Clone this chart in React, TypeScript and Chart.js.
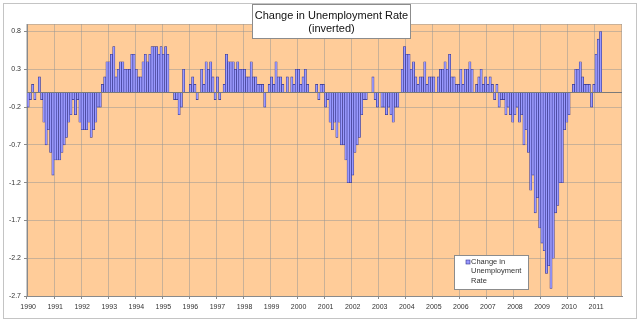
import React, { useEffect, useRef } from 'react';
import { Chart, registerables } from 'chart.js';

Chart.register(...registerables);

// Year tick labels (one per January)
const yearLabels = [
  '1990', '1991', '1992', '1993', '1994', '1995', '1996', '1997', '1998', '1999', '2000',
  '2001', '2002', '2003', '2004', '2005', '2006', '2007', '2008', '2009', '2010', '2011',
];

// Monthly change in unemployment rate (inverted), Jan 1990 - Dec 1999
const change1990s = [
  -0.2, -0.1, 0.1, -0.1, 0, 0.2, -0.1, -0.4, -0.7, -0.5, -0.8, -1.1,
  -0.9, -0.9, -0.9, -0.8, -0.7, -0.6, -0.4, -0.3, -0.1, -0.3, -0.1, -0.4,
  -0.5, -0.5, -0.5, -0.4, -0.6, -0.5, -0.4, -0.2, -0.2, 0.1, 0.2, 0.4,
  0.4, 0.5, 0.6, 0.2, 0.3, 0.4, 0.4, 0.3, 0.3, 0.3, 0.5, 0.5,
  0.3, 0.2, 0.2, 0.4, 0.5, 0.4, 0.5, 0.6, 0.6, 0.6, 0.5, 0.6,
  0.5, 0.6, 0.5, 0, 0, -0.1, -0.1, -0.3, -0.2, 0.3, 0, 0,
  0.1, 0.2, 0.1, -0.1, 0, 0.3, 0.1, 0.4, 0.3, 0.4, 0.2, -0.1,
  0.2, -0.1, 0, 0.1, 0.5, 0.4, 0.4, 0.4, 0.3, 0.4, 0.3, 0.3,
  0.3, 0.2, 0.2, 0.4, 0.2, 0.2, 0.1, 0.1, 0.1, -0.2, 0, 0.1,
  0.2, 0.1, 0.4, 0.2, 0.2, 0.1, 0, 0.2, 0, 0.2, 0.1, 0.3,
];

// Jan 2000 - Dec 2009
const change2000s = [
  0.3, 0.1, 0.2, 0.3, 0.1, 0, 0, 0, 0.1, -0.1, 0.1, 0.1,
  -0.2, -0.1, -0.4, -0.5, -0.4, -0.6, -0.4, -0.7, -0.7, -0.9, -1.2, -1.2,
  -1.1, -0.8, -0.7, -0.6, -0.3, -0.1, -0.1, 0, 0, 0.2, -0.1, -0.2,
  0, -0.2, -0.2, -0.3, -0.2, -0.3, -0.4, -0.2, -0.2, 0, 0.3, 0.6,
  0.5, 0.5, 0.3, 0.4, 0.2, 0.1, 0.2, 0.2, 0.4, 0.1, 0.2, 0.2,
  0.2, 0, 0.2, 0.3, 0.3, 0.4, 0.3, 0.5, 0.2, 0.2, 0.1, 0.1,
  0.3, 0.1, 0.3, 0.3, 0.4, 0.3, 0, 0.1, 0.2, 0.3, 0.1, 0.2,
  0.1, 0.2, 0.1, -0.1, 0.1, -0.2, -0.1, -0.1, -0.3, -0.2, -0.3, -0.4,
  -0.3, -0.2, -0.4, -0.3, -0.7, -0.5, -0.8, -1.3, -1.1, -1.6, -1.4, -1.8,
  -2.0, -2.1, -2.4, -2.3, -2.6, -2.2, -1.6, -1.5, -1.2, -1.2, -0.5, -0.4,
];

// Jan 2010 - Mar 2011
const change2010s = [
  -0.3, 0, 0.1, 0.3, 0.3, 0.4, 0.2, 0.1, 0.1, 0.1, -0.2, 0.1,
  0.5, 0.7, 0.8,
];

const yTickValues = [0.8, 0.3, -0.2, -0.7, -1.2, -1.7, -2.2, -2.7];
const seriesName = 'Change in Unemployment Rate';
const titleLines = ['Change in Unemployment Rate', '(inverted)'];
const legendLines = ['Change in', 'Unemployment', 'Rate'];

const FONT = "'Liberation Sans', Arial, sans-serif";
const PLOT_BG = '#FFCC99';
const GRID = 'rgba(150,150,150,0.5)';
const AXIS = '#8A8A8A';
const BAR_FILL = '#9999FF';
const BAR_EDGE = '#33338A';
const TEXT = '#333333';

export default function App() {
  const canvasRef = useRef<HTMLCanvasElement | null>(null);

  useEffect(() => {
    document.body.style.margin = '0';
    const canvas = canvasRef.current;
    if (!canvas) return;

    const monthLabels: string[] = [];
    yearLabels.forEach((y) => {
      for (let m = 0; m < 12; m++) monthLabels.push(m === 0 ? y : '');
    });
    const values: (number | null)[] = [...change1990s, ...change2000s, ...change2010s];
    while (values.length < monthLabels.length) values.push(null);

    const framePlugin = {
      id: 'excelFrame',
      beforeDraw(chart: any) {
        const { ctx, chartArea: a, width, height } = chart;
        ctx.save();
        ctx.fillStyle = '#ffffff';
        ctx.fillRect(0, 0, width, height);
        ctx.strokeStyle = '#C4C4C4';
        ctx.lineWidth = 1;
        ctx.strokeRect(3.5, 3.5, width - 7, height - 7);
        ctx.fillStyle = PLOT_BG;
        ctx.fillRect(a.left, a.top, a.right - a.left, a.bottom - a.top);
        ctx.restore();
      },
      afterDatasetsDraw(chart: any) {
        const { ctx, chartArea: a, scales } = chart;
        ctx.save();
        // plot-area border
        ctx.strokeStyle = GRID;
        ctx.lineWidth = 1;
        ctx.beginPath();
        ctx.moveTo(a.left, Math.round(a.top) + 0.5);
        ctx.lineTo(a.right, Math.round(a.top) + 0.5);
        ctx.moveTo(Math.round(a.right) - 0.5, a.top);
        ctx.lineTo(Math.round(a.right) - 0.5, a.bottom);
        ctx.stroke();
        // zero line (category axis crossing)
        const y0 = Math.round(scales.y.getPixelForValue(0)) + 0.5;
        ctx.strokeStyle = '#7A7A7A';
        ctx.beginPath();
        ctx.moveTo(a.left, y0);
        ctx.lineTo(a.right, y0);
        ctx.stroke();
        ctx.restore();
      },
      afterDraw(chart: any) {
        const { ctx } = chart;
        ctx.save();
        // Title box
        const tx = 331.5;
        ctx.font = `11px ${FONT}`;
        const tw = ctx.measureText(titleLines[0]).width;
        const bx = Math.round(tx - tw / 2 - 2.5) + 0.5;
        const bw = Math.round(tw + 5);
        ctx.fillStyle = '#ffffff';
        ctx.fillRect(bx, 4.5, bw, 34);
        ctx.strokeStyle = '#8C8C8C';
        ctx.lineWidth = 1;
        ctx.strokeRect(bx, 4.5, bw, 34);
        ctx.fillStyle = '#111111';
        ctx.textAlign = 'center';
        ctx.textBaseline = 'middle';
        ctx.fillText(titleLines[0], tx, 15.5);
        ctx.fillText(titleLines[1], tx, 29);

        // Legend box
        const lx = 454.5, ly = 255.5, lw = 74, lh = 34;
        ctx.fillStyle = '#ffffff';
        ctx.fillRect(lx, ly, lw, lh);
        ctx.strokeStyle = '#8C8C8C';
        ctx.strokeRect(lx, ly, lw, lh);
        ctx.fillStyle = BAR_FILL;
        ctx.fillRect(466, 260, 4, 4);
        ctx.strokeStyle = BAR_EDGE;
        ctx.lineWidth = 0.6;
        ctx.strokeRect(466, 260, 4, 4);
        ctx.fillStyle = TEXT;
        ctx.font = `7.5px ${FONT}`;
        ctx.textAlign = 'left';
        ctx.textBaseline = 'middle';
        legendLines.forEach((t, i) => ctx.fillText(t, 471, 262 + i * 9.3));
        ctx.restore();
      },
    };

    const chart = new Chart(canvas, {
      type: 'bar',
      data: {
        labels: monthLabels,
        datasets: [
          {
            label: seriesName,
            data: values,
            backgroundColor: BAR_FILL,
            borderColor: BAR_EDGE,
            borderWidth: 0.6,
            borderSkipped: 'start',
            barPercentage: 1,
            categoryPercentage: 1,
          },
        ],
      },
      options: {
        responsive: false,
        animation: false,
        devicePixelRatio: 1,
        layout: { padding: { left: 0, top: 24, right: 18, bottom: 0 } },
        plugins: {
          legend: { display: false },
          title: { display: false },
          tooltip: { enabled: false },
        },
        scales: {
          x: {
            type: 'category',
            offset: true,
            grid: {
              offset: true,
              color: (c: any) => (c.index !== undefined && c.index % 12 === 0 ? GRID : 'rgba(0,0,0,0)'),
              tickColor: (c: any) => (c.index !== undefined && c.index % 12 === 0 ? AXIS : 'rgba(0,0,0,0)'),
              tickLength: 3,
            },
            border: { display: true, color: AXIS },
            ticks: {
              autoSkip: false,
              maxRotation: 0,
              minRotation: 0,
              padding: 4,
              color: TEXT,
              font: { family: FONT, size: 7 },
              callback: (_v: any, i: number) => monthLabels[i],
            },
            afterFit: (s: any) => {
              s.height = 26;
            },
          },
          y: {
            type: 'linear',
            min: -2.7,
            max: 0.9,
            afterBuildTicks: (s: any) => {
              s.ticks = yTickValues.map((v) => ({ value: v }));
            },
            grid: { color: GRID, tickColor: AXIS, tickLength: 3 },
            border: { display: true, color: AXIS },
            ticks: {
              padding: 3,
              color: TEXT,
              font: { family: FONT, size: 7 },
              callback: (v: any) => Number(v).toFixed(1),
            },
            afterFit: (s: any) => {
              s.width = 27;
            },
          },
        },
      },
      plugins: [framePlugin],
    });

    return () => chart.destroy();
  }, []);

  return (
    <div style={{ width: 640, height: 322 }}>
      <canvas ref={canvasRef} width={640} height={322} style={{ display: 'block', width: 640, height: 322 }} />
    </div>
  );
}
